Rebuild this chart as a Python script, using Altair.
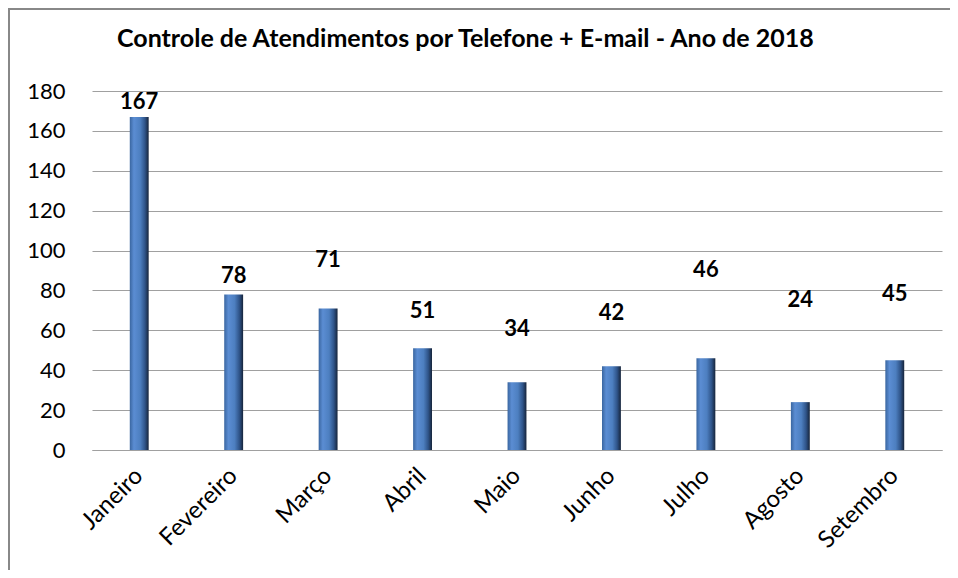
import altair as alt
import pandas as pd

months = ["Janeiro", "Fevereiro", "Março", "Abril", "Maio", "Junho", "Julho", "Agosto", "Setembro"]
values = [167, 78, 71, 51, 34, 42, 46, 24, 45]
label_y = [174.5, 87, 95.5, 69.5, 60.5, 68.5, 90.5, 75, 78]
y_ticks = [0, 20, 40, 60, 80, 100, 120, 140, 160, 180]
title_text = "Controle de Atendimentos por Telefone + E-mail -  Ano de 2018"

df = pd.DataFrame({"mes": months, "valor": values, "ly": label_y})

W, H = 850, 359
FONT = "Lato"

x_scale = alt.Scale(paddingInner=0.8, paddingOuter=0.4)
y_scale = alt.Scale(domain=[0, 180], nice=False)

x_axis = alt.Axis(labelAngle=-45, labelFontSize=24, labelFont=FONT,
                  labelColor="#000000", ticks=False, domainColor="#a0a0a0",
                  labelPadding=22, labelAlign="right", labelBaseline="middle",
                  labelOverlap=False, labelLimit=300)
y_axis = alt.Axis(values=y_ticks, labelFontSize=22, labelFont=FONT,
                  labelColor="#000000", ticks=False, domain=False,
                  gridColor="#a0a0a0", gridWidth=1, labelPadding=27,
                  labelOverlap=False)

grad = alt.Gradient(
    gradient="linear",
    stops=[
        alt.GradientStop(color="#3a66a0", offset=0),
        alt.GradientStop(color="#5b8dd3", offset=0.22),
        alt.GradientStop(color="#4d7fc0", offset=0.55),
        alt.GradientStop(color="#2f5489", offset=0.8),
        alt.GradientStop(color="#16243a", offset=1),
    ],
    x1=0, x2=1, y1=0, y2=0,
)

bars = alt.Chart(df).mark_bar(color=grad).encode(
    x=alt.X("mes:N", sort=months, title=None, scale=x_scale, axis=x_axis),
    y=alt.Y("valor:Q", title=None, scale=y_scale, axis=y_axis),
)

labels = alt.Chart(df).mark_text(font=FONT, fontSize=22, fontWeight="bold",
                                 color="#000000", baseline="middle").encode(
    x=alt.X("mes:N", sort=months, title=None, scale=x_scale, axis=x_axis),
    y=alt.Y("ly:Q", title=None, scale=y_scale, axis=y_axis),
    text=alt.Text("valor:Q"),
)

title = alt.Chart(pd.DataFrame({"t": [title_text]})).mark_text(
    font=FONT, fontSize=25, fontWeight="bold", color="#000000",
    align="left", baseline="middle").encode(
    x=alt.value(25), y=alt.value(-52), text="t:N")

frame_left = alt.Chart(df).mark_rule(color="#888888", strokeWidth=2).encode(
    x=alt.value(-83), y=alt.value(-83), y2=alt.value(H + 120))
frame_top = alt.Chart(df).mark_rule(color="#888888", strokeWidth=2).encode(
    x=alt.value(-83), x2=alt.value(W + 8), y=alt.value(-82))

chart = alt.layer(bars, labels, title, frame_left, frame_top).properties(
    width=W, height=H,
    background="#ffffff",
    autosize=alt.AutoSizeParams(type="none"),
    padding={"left": 84, "top": 83, "right": 8, "bottom": 120},
).configure_view(strokeWidth=0, stroke="transparent")

chart.save("out.html", embed_options={"renderer": "svg", "actions": False})
